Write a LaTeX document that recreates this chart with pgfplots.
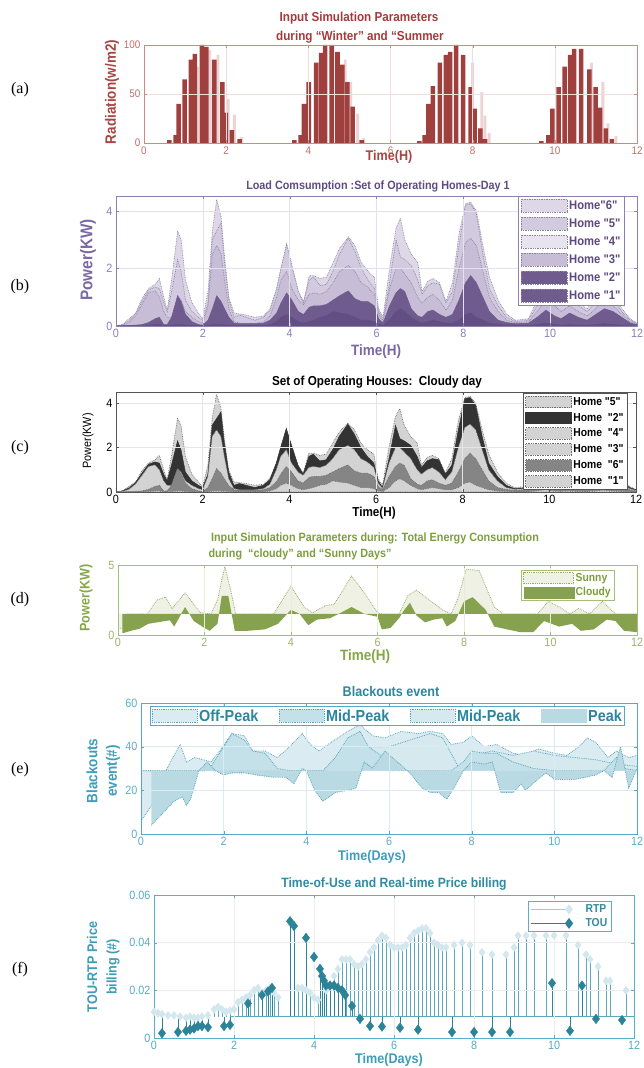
\documentclass[border=0pt]{standalone}
\usepackage{fontspec}
\setmainfont{Liberation Sans}[FakeStretch=0.9, Ligatures=TeXOff]
\newfontfamily\tnr{Liberation Serif}
\usepackage{pgfplots}
\pgfplotsset{compat=1.18}
\usepackage{pgfplotstable}

\definecolor{aTitle}{HTML}{A63A3A}
\definecolor{aLabel}{HTML}{A84442}
\definecolor{aTick}{HTML}{C46D6B}
\definecolor{aAxis}{HTML}{D08886}
\definecolor{aBar}{HTML}{A0403E}
\definecolor{aBarL}{HTML}{EBD4D3}
\definecolor{aGrid}{HTML}{EEDFDF}
\definecolor{bTitle}{HTML}{5F4B85}
\definecolor{bLabel}{HTML}{7A68A4}
\definecolor{bTick}{HTML}{8D7EB5}
\definecolor{bAxis}{HTML}{8E80B0}
\definecolor{bGrid}{HTML}{E4E0EE}
\definecolor{bB}{HTML}{624E82}
\definecolor{bD}{HTML}{6F5B8E}
\definecolor{bM}{HTML}{C7BDD7}
\definecolor{bK}{HTML}{D2CADF}
\definecolor{bT}{HTML}{DDD7E8}
\definecolor{bEdge}{HTML}{8C83A0}
\definecolor{bLeg}{HTML}{5E4A7E}
\definecolor{cDark}{HTML}{333333}
\definecolor{cGray}{HTML}{858585}
\definecolor{cLight}{HTML}{D3D3D3}
\definecolor{cEdge}{HTML}{6E6E6E}
\definecolor{cAxis}{HTML}{555555}
\definecolor{dTitle}{HTML}{7C9E3C}
\definecolor{dLabel}{HTML}{86A64A}
\definecolor{dTick}{HTML}{9AB56A}
\definecolor{dAxis}{HTML}{A6BE7A}
\definecolor{dCloudy}{HTML}{87A24E}
\definecolor{dSunny}{HTML}{EEF1E3}
\definecolor{dEdge}{HTML}{95AE68}
\definecolor{dGrid}{HTML}{E8ECDD}
\definecolor{eTitle}{HTML}{2B86A0}
\definecolor{eLabel}{HTML}{3F9DBA}
\definecolor{eTick}{HTML}{5BAEC8}
\definecolor{eAxis}{HTML}{56A9C2}
\definecolor{eS1}{HTML}{DAECF2}
\definecolor{eS2}{HTML}{C4E0E8}
\definecolor{eS3}{HTML}{D5E9EF}
\definecolor{eS4}{HTML}{BADAE3}
\definecolor{eEdge}{HTML}{5AA5BC}
\definecolor{fTitle}{HTML}{2E8BA0}
\definecolor{fLabel}{HTML}{3D9CB6}
\definecolor{fTick}{HTML}{55ABC2}
\definecolor{fAxis}{HTML}{5AAFC5}
\definecolor{fTOU}{HTML}{2B8398}
\definecolor{fRTP}{HTML}{D3E7EE}
\definecolor{fRTPstem}{HTML}{5BA9BC}

\newcommand{\fs}[1]{\fontsize{#1}{#1}\selectfont}

% ---------------- data ----------------
\pgfplotstableread{
x y
0.62 3
0.77 8
0.84 40
0.99 65
1.14 85
1.24 91
1.41 100
1.52 98
1.71 85
1.91 62
1.99 31
2.14 13
2.33 4
3.66 3
3.81 8
3.89 40
4.01 62
4.19 82
4.31 92
4.41 100
4.57 100
4.71 93
4.83 80
4.95 62
5.08 37
5.30 3
6.70 2
6.83 8
6.92 40
7.03 58
7.20 82
7.35 90
7.45 93
7.60 100
7.77 90
7.95 57
8.05 35
8.19 15
8.30 4
9.67 2
9.84 8
9.94 35
10.09 57
10.24 78
10.37 90
10.47 96
10.64 96
10.84 75
10.99 57
11.10 36
11.24 15
11.39 4
}\radD

\pgfplotstableread{
x y
1.30 78
1.60 95
1.80 90
2.05 45
2.20 29
2.38 6
4.90 85
5.03 62
5.20 30
5.35 5
8.00 82
8.22 52
8.30 28
8.40 10
10.89 82
11.17 62
11.29 20
11.49 7
}\radL

\pgfplotstableread{
x B D M K T
0.00 0 0 0 0 0
0.15 0 0.01 0.03 0.05 0.05
0.30 0 0.02 0.12 0.18 0.25
0.45 0 0.03 0.35 0.42 0.45
0.60 0 0.05 0.75 0.85 0.95
0.75 0.02 0.12 1.15 1.25 1.3
0.90 0.05 0.25 1.22 1.35 1.45
1.00 0.05 0.3 1.0 1.3 1.65
1.10 0.02 0.05 0.5 0.8 1.0
1.18 0.02 0.05 0.3 0.5 0.55
1.28 0.03 0.3 0.3 1.2 1.6
1.42 0.05 1.05 1.05 2.3 3.3
1.50 0.05 0.85 0.9 1.9 3.0
1.60 0.03 0.4 0.5 0.9 1.6
1.75 0.02 0.15 0.3 0.5 0.8
1.90 0.01 0.05 0.15 0.3 0.45
2.00 0.01 0.03 0.1 0.2 0.25
2.12 0.02 0.2 0.7 0.8 1.2
2.22 0.05 0.6 2.5 3.0 3.3
2.32 0.05 1.05 2.8 3.3 4.4
2.42 0.05 0.85 2.5 3.6 3.8
2.50 0.04 0.6 1.6 2.2 2.4
2.60 0.03 0.3 0.6 0.9 1.0
2.72 0.02 0.1 0.15 0.3 0.45
2.85 0.02 0.08 0.1 0.38 0.42
3.00 0.02 0.08 0.1 0.3 0.38
3.20 0.02 0.08 0.1 0.2 0.3
3.40 0.02 0.1 0.15 0.3 0.35
3.55 0.05 0.2 0.35 0.55 0.6
3.70 0.15 0.45 1.0 1.3 1.3
3.80 0.3 0.8 1.6 2.0 2.0
3.93 0.4 1.15 1.9 2.85 2.85
4.05 0.3 0.9 1.3 2.1 2.1
4.20 0.15 0.5 0.9 1.2 1.2
4.32 0.1 0.4 0.75 0.8 0.85
4.45 0.15 0.65 1.1 1.6 1.75
4.55 0.2 0.7 1.15 1.7 1.75
4.70 0.3 0.7 1.1 1.4 1.65
4.85 0.35 0.75 1.2 1.45 1.7
5.00 0.5 0.9 1.5 1.9 2.2
5.15 0.45 1.05 1.9 2.5 2.7
5.35 0.4 1.22 2.1 3.05 3.1
5.50 0.3 0.95 1.9 2.6 2.8
5.65 0.2 0.85 1.5 2.0 2.2
5.80 0.2 0.85 1.35 1.6 1.9
5.95 0.15 0.7 1.1 1.3 1.7
6.05 0.05 0.25 0.4 0.5 0.6
6.15 0.02 0.1 0.15 0.2 0.3
6.30 0.2 0.7 1.3 1.5 2.0
6.45 0.5 1.15 2.0 3.0 3.4
6.55 0.6 1.3 2.0 2.4 3.75
6.65 0.5 1.2 1.8 2.3 3.0
6.80 0.3 0.6 1.5 2.1 2.5
6.95 0.15 0.35 1.0 1.6 2.2
7.05 0.1 0.3 0.8 1.1 1.2
7.18 0.15 0.5 1.0 1.4 1.55
7.30 0.2 0.55 1.1 1.5 1.65
7.45 0.15 0.4 0.9 1.45 1.5
7.60 0.1 0.3 0.55 0.8 0.85
7.75 0.1 0.4 0.9 1.2 1.5
7.90 0.2 0.9 2.0 2.8 3.2
8.05 0.4 1.5 2.9 4.2 4.25
8.17 0.45 1.75 3.05 4.25 4.3
8.30 0.3 1.5 2.8 3.9 4.0
8.45 0.2 1.0 1.9 2.5 2.8
8.60 0.1 0.5 1.0 1.3 1.7
8.80 0.05 0.2 0.5 0.7 0.9
9.00 0.03 0.12 0.2 0.3 0.4
9.20 0.02 0.08 0.12 0.15 0.2
9.50 0.02 0.1 0.15 0.2 0.25
9.70 0.05 0.3 0.5 0.7 0.9
9.90 0.1 0.55 0.9 1.2 1.5
10.10 0.05 0.35 0.7 1.0 1.2
10.25 0.03 0.25 0.5 0.7 0.8
10.45 0.05 0.45 0.7 0.95 1.1
10.65 0.03 0.3 0.5 0.7 0.8
10.85 0.02 0.2 0.35 0.5 0.6
11.05 0.05 0.4 0.6 0.8 1.0
11.25 0.08 0.6 0.9 1.2 1.4
11.45 0.05 0.5 0.7 0.9 1.0
11.65 0.03 0.3 0.4 0.5 0.6
11.85 0.01 0.1 0.15 0.2 0.25
12.00 0 0.05 0.08 0.1 0.1
}\homes

\pgfplotstableread{
x y
0 0.45
0.12 0.5
0.2 1.5
0.68 1.5
0.9 2.5
1.1 2.7
1.25 1.9
1.55 3.0
1.9 1.6
2.15 1.5
2.3 2.5
2.47 4.9
2.62 3.0
2.72 1.5
3.6 1.5
4.0 3.5
4.3 2.0
4.5 1.6
4.8 2.1
5.0 2.2
5.2 3.2
5.4 4.2
5.7 3.0
6.0 1.6
6.1 1.5
6.5 1.5
6.7 2.8
6.9 3.2
7.2 2.5
7.5 1.8
7.7 1.5
7.85 2.5
8.05 4.7
8.35 4.6
8.7 2.0
8.9 1.5
9.7 1.5
9.95 2.4
10.2 2.0
10.45 1.5
10.65 1.9
10.9 1.5
11.2 2.4
11.5 1.5
12 1.5
}\sunny

\pgfplotstableread{
x y
0.1 0.12
0.3 0.3
0.5 0.45
0.7 0.8
1.0 0.95
1.2 1.05
1.3 0.6
1.55 2.0
1.75 1.0
2.0 0.5
2.12 0.3
2.3 0.8
2.4 2.8
2.55 2.8
2.7 0.3
3.0 0.3
3.4 0.4
3.7 0.8
4.0 1.8
4.2 1.5
4.4 0.7
4.6 1.1
4.9 1.2
5.1 1.5
5.4 2.0
5.7 1.5
6.0 1.3
6.1 0.4
6.3 0.5
6.5 1.2
6.62 1.8
6.75 2.3
6.9 1.4
7.1 0.9
7.3 1.1
7.5 1.2
7.6 0.6
7.8 1.0
8.0 2.4
8.2 2.7
8.5 1.8
8.7 0.6
9.0 0.4
9.3 0.2
9.6 0.2
9.85 1.0
10.2 0.6
10.5 0.8
10.7 0.3
11.0 0.4
11.3 1.1
11.5 1.0
11.7 0.3
12 0.2
}\cloudy

\pgfplotstableread{
x y
0 6
0.25 13
0.45 20
0.6 29
0.8 36
0.95 41
1.1 33
1.3 35
1.5 34
1.7 33
1.9 38
2.2 46
2.5 45
2.7 38
3.0 38
3.3 35
3.6 40
3.9 46
4.1 41
4.3 38
4.6 42
5.0 47
5.3 50
5.6 45
5.9 44
6.3 47
6.7 46
7.0 47
7.3 46
7.5 41
7.8 42
8.0 45
8.3 40
8.6 41
9.0 37
9.3 36
9.6 39
10.0 37
10.3 36
10.6 40
10.8 44
11.0 42
11.3 35
11.5 38
11.8 35
12 36
}\eA

\pgfplotstableread{
x y
0 29
1.5 29
1.7 31
2.0 40
2.2 46
2.5 43
2.7 38
3.0 37
3.3 30
3.6 29
4.4 29
4.7 35
5.0 44
5.3 47
5.5 40
5.8 36
6.0 29
7.5 29
7.8 33
8.0 38
8.3 37
8.6 37
9.0 33
9.5 30
10.0 29
11.2 29
11.5 35
11.7 30
12 29
}\eC

\pgfplotstableread{
x y
0 29
4.5 29
5.0 36
5.5 40
6.0 40
6.5 43
7.0 46
7.3 44
7.7 30
8.0 36
8.5 38
9.0 36
9.5 38
10.0 36
10.5 35
11.0 34
11.5 32
12 31
}\eD

\pgfplotstableread{
x y
0.25 4
0.5 9
0.8 15
1.0 17
1.1 13
1.2 16
1.4 29
1.6 33
1.8 29
2.0 27
2.2 28
2.5 28
2.8 27
3.2 26
3.5 26
3.7 23
3.9 30
4.0 29
4.2 20
4.4 15
4.7 19
5.0 20
5.2 21
5.4 33
5.6 30
5.9 38
6.2 33
6.5 28
6.8 21
7.0 19
7.2 19
7.4 16
7.6 22
7.8 29
8.0 33
8.3 32
8.5 33
8.7 19
9.0 19
9.2 23
9.3 20
9.6 25
9.8 28
10.0 25
10.5 25
11.0 27
11.2 29
11.4 26
11.6 40
11.8 21
12 30
}\eB

\pgfplotstableread{
x y
0.0 0.011
0.1 0.0105
0.2 0.010
0.35 0.0095
0.5 0.0095
0.65 0.009
0.8 0.0085
0.9 0.009
1.0 0.0085
1.1 0.0085
1.2 0.009
1.35 0.0095
1.5 0.012
1.6 0.013
1.7 0.012
1.8 0.011
1.9 0.0115
2.0 0.012
2.1 0.015
2.2 0.016
2.3 0.017
2.4 0.018
2.5 0.020
2.6 0.021
2.7 0.019
2.8 0.020
2.9 0.021
3.0 0.019
3.1 0.017
3.6 0.021
3.7 0.021
3.8 0.020
3.9 0.019
4.0 0.017
4.1 0.016
4.3 0.020
4.4 0.022
4.5 0.026
4.6 0.029
4.7 0.033
4.8 0.033
4.9 0.033
5.0 0.031
5.1 0.030
5.2 0.031
5.3 0.033
5.4 0.036
5.5 0.038
5.6 0.041
5.7 0.043
5.8 0.042
5.9 0.039
6.0 0.038
6.1 0.038
6.2 0.038
6.3 0.039
6.4 0.042
6.5 0.044
6.6 0.045
6.7 0.046
6.8 0.046
6.9 0.044
7.0 0.040
7.1 0.039
7.2 0.038
7.3 0.038
7.5 0.039
7.7 0.040
7.9 0.039
8.2 0.036
8.45 0.035
8.8 0.035
9.0 0.038
9.1 0.043
9.3 0.043
9.5 0.043
9.8 0.043
10.0 0.043
10.3 0.043
10.6 0.039
10.8 0.035
10.9 0.033
11.1 0.030
11.3 0.024
11.4 0.024
11.8 0.020
}\rtp

\pgfplotstableread{
x y
0.2 0.002
0.6 0.0025
0.8 0.003
0.9 0.0035
1.0 0.004
1.1 0.005
1.2 0.005
1.35 0.0045
1.75 0.005
1.9 0.0055
2.35 0.0145
2.7 0.018
2.85 0.0195
2.95 0.021
3.4 0.049
3.5 0.047
3.8 0.042
4.0 0.034
4.15 0.029
4.2 0.026
4.25 0.024
4.3 0.022
4.4 0.022
4.5 0.022
4.6 0.021
4.7 0.020
4.78 0.018
4.95 0.0135
5.15 0.008
5.4 0.005
5.7 0.0048
6.15 0.0043
6.6 0.0035
7.45 0.0025
8.0 0.0025
8.45 0.0025
8.9 0.0025
9.95 0.023
10.4 0.003
10.7 0.022
11.05 0.008
11.7 0.0075
}\tou

\pgfplotsset{
  panel/.style={
    scale only axis, anchor=south west,
    xmin=0, xmax=12, xtick={0,2,4,6,8,10,12},
    grid=major,
    tick align=inside,
    major tick length=3pt,
    /pgf/number format/assume math mode=true,
    tick label style={font=\fs{11}},
    axis on top,
    legend cell align=left,
    axis line style={line width=0.7pt},
  },
}

\begin{document}
\begin{tikzpicture}[x=1pt,y=1pt]
\path[use as bounding box] (0,0) rectangle (644,1068);

% ================= (a) =================
\begin{axis}[panel, at={(144pt,925pt)}, width=493pt, height=98pt,
  ymin=0, ymax=100, ytick={0,50,100},
  axis line style={draw=aAxis}, tick style={draw=aAxis},
  tick label style={text=aTick}, major grid style={draw=aGrid, line width=0.5pt}]
\addplot[ybar, bar width=0.07, bar shift=0pt, fill=aBarL, draw=none] table {\radL};
\addplot[ybar, bar width=0.11, bar shift=0pt, fill=aBar, draw=none] table {\radD};
\end{axis}
\node[text=aTitle, font=\fs{13}\bfseries] at (359,1050) {Input Simulation Parameters};
\node[text=aTitle, font=\fs{13}\bfseries] at (360,1031) {during “Winter” and “Summer};
\node[text=aLabel, font=\fs{15}\bfseries, rotate=90] at (112,976) {Radiation(w/m2)};
\node[text=aLabel, font=\fs{14}\bfseries] at (389,911) {Time(H)};
\node[font=\tnr\fs{16}] at (20,978) {(a)};

% ================= (b) =================
\begin{axis}[panel, at={(116pt,742pt)}, width=521pt, height=130pt,
  ymin=0, ymax=4.52, ytick={0,2,4},
  axis line style={draw=bAxis}, tick style={draw=bAxis},
  tick label style={text=bTick, font=\fs{12}}, major grid style={draw=bGrid, line width=0.5pt},
  legend style={at={(0.772,1)}, anchor=north west, draw=bAxis, fill=white,
    font=\fs{12.5}\bfseries, text=bLeg, inner sep=2.5pt, row sep=4.3pt, nodes={inner sep=1.6pt}},
  legend image code/.code={\draw[#1] (0pt,-6.5pt) rectangle (46pt,6.5pt);}]
\addplot[fill=bT, draw=bEdge, densely dotted, line width=0.7pt, forget plot] table[x=x,y=T]{\homes} \closedcycle;
\addplot[fill=bK, draw=bEdge, densely dotted, line width=0.7pt, forget plot] table[x=x,y=K]{\homes} \closedcycle;
\addplot[fill=bM, draw=bEdge, densely dotted, line width=0.7pt, forget plot] table[x=x,y=M]{\homes} \closedcycle;
\addplot[fill=bD, draw=bD, line width=0.5pt, forget plot] table[x=x,y=D]{\homes} \closedcycle;
\addplot[fill=bB, draw=bB, line width=0.5pt, forget plot] table[x=x,y=B]{\homes} \closedcycle;
\addlegendimage{fill=bT, draw=bEdge, densely dotted, line width=0.7pt}
\addlegendentry{Home"6"}
\addlegendimage{fill=bK, draw=bEdge, densely dotted, line width=0.7pt}
\addlegendentry{Home "5"}
\addlegendimage{fill=bT!70!white, draw=bEdge, densely dotted, line width=0.7pt}
\addlegendentry{Home "4"}
\addlegendimage{fill=bM, draw=bEdge, densely dotted, line width=0.7pt}
\addlegendentry{Home "3"}
\addlegendimage{fill=bD, draw=bEdge, densely dotted, line width=0.7pt}
\addlegendentry{Home "2"}
\addlegendimage{fill=bD, draw=bEdge, densely dotted, line width=0.7pt}
\addlegendentry{Home "1"}
\end{axis}
\node[text=bTitle, font=\fs{12}\bfseries] at (378,882) {Load Comsumption :Set of Operating Homes-Day 1};
\node[text=bLabel, font=\fs{17}\bfseries, rotate=90] at (88,808) {Power(KW)};
\node[text=bLabel, font=\fs{15}\bfseries] at (376,716) {Time(H)};
\node[font=\tnr\fs{16}] at (20,781) {(b)};

% ================= (c) =================
\begin{axis}[panel, at={(116pt,576pt)}, width=520pt, height=100pt,
  ymin=0, ymax=4.5, ytick={0,2,4},
  axis line style={draw=cAxis}, tick style={draw=cAxis},
  tick label style={text=black, font=\fs{12}}, major grid style={draw=gray!20, line width=0.5pt},
  legend style={at={(0.783,0.985)}, anchor=north west, draw=cAxis, fill=white,
    font=\fs{11.5}\bfseries, text=black, inner sep=2pt, row sep=3.6pt, nodes={inner sep=1.3pt}},
  legend image code/.code={\draw[#1] (0pt,-5.8pt) rectangle (46pt,5.8pt);}]
\addplot[fill=cLight, draw=cEdge, densely dotted, line width=0.7pt, forget plot] table[x=x,y=T]{\homes} \closedcycle;
\addplot[fill=cDark, draw=cDark, line width=0.5pt, forget plot] table[x=x,y=K]{\homes} \closedcycle;
\addplot[fill=cLight, draw=cEdge, densely dotted, line width=0.7pt, forget plot] table[x=x,y=M]{\homes} \closedcycle;
\addplot[fill=cGray, draw=cEdge, densely dotted, line width=0.7pt, forget plot] table[x=x,y=D]{\homes} \closedcycle;
\addplot[fill=cLight, draw=cEdge, densely dotted, line width=0.7pt, forget plot] table[x=x,y=B]{\homes} \closedcycle;
\addlegendimage{fill=cLight, draw=cEdge, densely dotted, line width=0.7pt}
\addlegendentry{Home "5"}
\addlegendimage{fill=cDark, draw=cDark, line width=0.7pt}
\addlegendentry{Home~~"2"}
\addlegendimage{fill=cLight, draw=cEdge, densely dotted, line width=0.7pt}
\addlegendentry{Home~~"4"}
\addlegendimage{fill=cLight, draw=cEdge, densely dotted, line width=0.7pt}
\addlegendentry{Home~~"3"}
\addlegendimage{fill=cGray, draw=cEdge, densely dotted, line width=0.7pt}
\addlegendentry{Home~~"6"}
\addlegendimage{fill=cLight, draw=cEdge, densely dotted, line width=0.7pt}
\addlegendentry{Home~~"1"}
\end{axis}
\node[text=black, font=\fs{13}\bfseries] at (377,686) {Set of Operating Houses:~~Cloudy day};
\node[text=black, font=\fs{12}, rotate=90] at (88,627) {Power(KW)};
\node[text=black, font=\fs{13}\bfseries] at (374,555) {Time(H)};
\node[font=\tnr\fs{16}] at (20,620) {(c)};

% ================= (d) =================
\begin{axis}[panel, at={(118pt,433pt)}, width=519pt, height=70pt,
  ymin=0, ymax=5, ytick={0,5},
  axis line style={draw=dAxis}, tick style={draw=dAxis},
  tick label style={text=dTick, font=\fs{12}}, major grid style={draw=dGrid, line width=0.5pt},
  legend style={at={(0.777,0.93)}, anchor=north west, draw=dAxis, fill=white,
    font=\fs{11.5}\bfseries, text=dTitle, inner sep=2pt, row sep=1.5pt, nodes={inner sep=1.4pt}},
  legend image code/.code={\draw[#1] (0pt,-5.5pt) rectangle (50pt,5.5pt);}]
\addplot[fill=dSunny, draw=none, forget plot] table {\sunny} -- (axis cs:12,1.5) -- (axis cs:0,1.5) -- cycle;
\addplot[draw=dEdge, densely dotted, line width=0.8pt, forget plot] table {\sunny};
\addplot[fill=dCloudy, draw=none, forget plot] table {\cloudy} -- (axis cs:12,1.5) -- (axis cs:0.1,1.5) -- cycle;
\addlegendimage{fill=dSunny, draw=dEdge, densely dotted, line width=0.8pt}
\addlegendentry{Sunny}
\addlegendimage{fill=dCloudy, draw=dCloudy}
\addlegendentry{Cloudy}
\end{axis}
\node[text=dTitle, font=\fs{12}\bfseries] at (375,530) {Input Simulation Parameters during: Total Energy Consumption};
\node[text=dTitle, font=\fs{12}\bfseries, anchor=west] at (205,514) {during~ “cloudy” and “Sunny Days”};
\node[text=dLabel, font=\fs{14}\bfseries, rotate=90] at (86,470) {Power(KW)};
\node[text=dLabel, font=\fs{15}\bfseries] at (365,411) {Time(H)};
\node[font=\tnr\fs{16}] at (20,468) {(d)};

% ================= (e) =================
\begin{axis}[panel, at={(141pt,234pt)}, width=496pt, height=131pt,
  ymin=0, ymax=60, ytick={0,20,40,60},
  axis line style={draw=eAxis}, tick style={draw=eAxis},
  tick label style={text=eTick, font=\fs{12}}, major grid style={draw=eS1, line width=0.5pt},
  legend columns=4,
  legend style={at={(0.018,0.977)}, anchor=north west, draw=eAxis, fill=white, line width=0.8pt,
    font=\fs{16}\bfseries, text=eTitle, inner sep=1.5pt, nodes={inner sep=1.5pt},
    /tikz/every even column/.append style={column sep=19pt}},
  legend image code/.code={\draw[#1] (0pt,-6.5pt) rectangle (45pt,6.5pt);}]
\addplot[fill=eS1, draw=none, forget plot] table {\eA} -- (axis cs:12,29) -- (axis cs:0,29) -- cycle;
\addplot[draw=eEdge, densely dotted, line width=0.8pt, forget plot] table {\eA};
\addplot[fill=eS3, draw=none, forget plot] table {\eD} -- (axis cs:12,29) -- (axis cs:0,29) -- cycle;
\addplot[draw=eEdge, densely dotted, line width=0.8pt, forget plot] table {\eD};
\addplot[fill=eS2, draw=none, forget plot] table {\eC} -- (axis cs:12,29) -- (axis cs:0,29) -- cycle;
\addplot[draw=eEdge, densely dotted, line width=0.8pt, forget plot] table {\eC};
\addplot[fill=eS4, draw=none, forget plot] table {\eB} -- (axis cs:12,29) -- (axis cs:0.25,29) -- cycle;
\addplot[draw=eEdge, densely dotted, line width=0.8pt, forget plot] table {\eB};
\addlegendimage{fill=eS1, draw=eEdge, densely dotted, line width=0.8pt}
\addlegendentry{Off-Peak}
\addlegendimage{fill=eS2, draw=eEdge, densely dotted, line width=0.8pt}
\addlegendentry{Mid-Peak}
\addlegendimage{fill=eS3, draw=eEdge, densely dotted, line width=0.8pt}
\addlegendentry{Mid-Peak}
\addlegendimage{fill=eS4, draw=eS4}
\addlegendentry{Peak}
\end{axis}
\node[text=eTitle, font=\fs{14}\bfseries] at (391,376) {Blackouts event};
\node[text=eLabel, font=\fs{15}\bfseries, rotate=90] at (92,297) {Blackouts};
\node[text=eLabel, font=\fs{15}\bfseries, rotate=90] at (113,297) {event(\#)};
\node[text=eLabel, font=\fs{14}\bfseries] at (372,211) {Time(Days)};
\node[font=\tnr\fs{16}] at (20,298) {(e)};

% ================= (f) =================
\begin{axis}[panel, at={(154pt,30pt)}, width=480pt, height=143pt,
  ymin=0, ymax=0.06, ytick={0,0.02,0.04,0.06}, yticklabels={0,0.02,0.04,0.06},
  scaled y ticks=false,
  axis line style={draw=fAxis}, tick style={draw=fAxis},
  tick label style={text=fTick, font=\fs{12}}, major grid style={draw=gray!15, line width=0.5pt},
  legend style={at={(0.78,0.958)}, anchor=north west, draw=fAxis, fill=white,
    font=\fs{11.5}\bfseries, text=fTitle, inner sep=2pt, row sep=1.5pt, nodes={inner sep=1.5pt}},
  legend image code/.code={\draw[#1, mark=none] (0pt,0pt) -- (38pt,0pt); \draw[#1, only marks] plot coordinates {(38pt,0pt)};}]
\addplot[fRTPstem, only marks, mark=none, forget plot,
  error bars/.cd, y dir=both, y explicit, error mark=none,
  error bar style={draw=fRTPstem, line width=0.5pt, solid}]
  table[x=x, y=y, y error plus expr={max(0.009-\thisrow{y},0)}, y error minus expr={max(\thisrow{y}-0.009,0)}] {\rtp};
\addplot[fTOU, only marks, mark=none, forget plot,
  error bars/.cd, y dir=both, y explicit, error mark=none,
  error bar style={draw=fTOU, line width=0.8pt, solid}]
  table[x=x, y=y, y error plus expr={max(0.009-\thisrow{y},0)}, y error minus expr={max(\thisrow{y}-0.009,0)}] {\tou};
\addplot[draw=fRTPstem, line width=0.8pt, forget plot] coordinates {(1.9,0.009) (12,0.009)};
\addplot[only marks, mark=diamond*, mark size=4pt, mark options={fill=fRTP, draw=fRTP}, forget plot] table {\rtp};
\addplot[only marks, mark=diamond*, mark size=4.8pt, mark options={fill=fTOU, draw=fTOU}, forget plot] table {\tou};
\addlegendimage{draw=fRTPstem!60!white, line width=0.7pt, mark=diamond*, mark size=4.5pt, mark options={fill=fRTP, draw=fRTP}}
\addlegendentry{\quad RTP}
\addlegendimage{draw=fTOU, line width=0.8pt, mark=diamond*, mark size=4.8pt, mark options={fill=fTOU, draw=fTOU}}
\addlegendentry{\quad TOU}
\end{axis}
\node[text=fTitle, font=\fs{13.5}\bfseries] at (394,184) {Time-of-Use and Real-time Price billing};
\node[text=fLabel, font=\fs{14}\bfseries, rotate=90] at (92,101) {TOU-RTP Price};
\node[text=fLabel, font=\fs{14}\bfseries, rotate=90] at (113,101) {billing (\#)};
\node[text=fLabel, font=\fs{14}\bfseries] at (389,8) {Time(Days)};
\node[font=\tnr\fs{16}] at (20,98) {(f)};
\end{tikzpicture}
\end{document}
